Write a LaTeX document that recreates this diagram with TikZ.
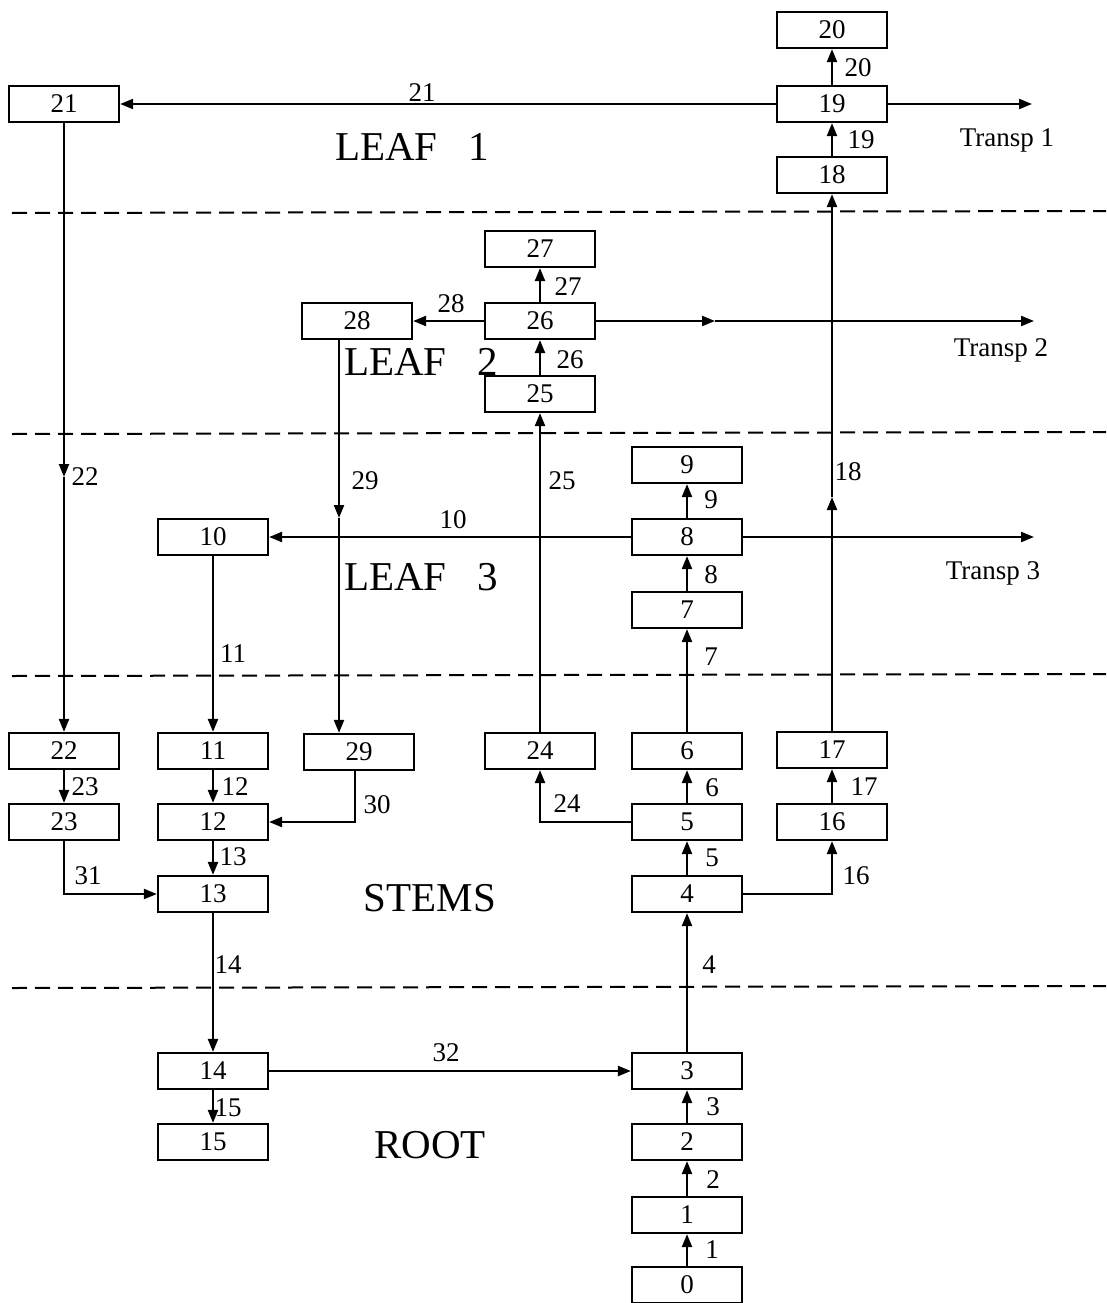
\documentclass[tikz,border=0pt]{standalone}
\usepackage{fontspec}
\setmainfont{Liberation Serif}
\usetikzlibrary{arrows.meta}
\begin{document}
\begin{tikzpicture}[x=1pt,y=-1pt,
  box/.style={draw, line width=2.2pt, minimum width=110pt, minimum height=36pt, inner sep=0pt, font=\fontsize{27}{27}\selectfont},
  lab/.style={font=\fontsize{27}{27}\selectfont, inner sep=0pt},
  region/.style={font=\fontsize{41}{41}\selectfont, inner sep=0pt},
  tr/.style={font=\fontsize{27}{27}\selectfont, inner sep=0pt},
  con/.style={line width=2.2pt},
  arr/.style={con, -{Triangle[length=13pt,width=10pt]}},
  sep/.style={line width=2pt, dash pattern=on 15pt off 8pt}]
\useasboundingbox (0,0) rectangle (1106,1303);
\fill[white] (0,0) rectangle (1106,1303);

% separators
\coordinate (s1a) at (12,213); \coordinate (s1b) at (1106,211);
\coordinate (s2a) at (12,434); \coordinate (s2b) at (1106,432);
\coordinate (s3a) at (12,676); \coordinate (s3b) at (1106,674);
\coordinate (s4a) at (12,988); \coordinate (s4b) at (1106,986);
\draw[sep] (s1a) -- (s1b);
\draw[sep] (s2a) -- (s2b);
\draw[sep] (s3a) -- (s3b);
\draw[sep] (s4a) -- (s4b);

% boxes
\node[box] (b20) at (832,30) {20};
\node[box] (b19) at (832,104) {19};
\node[box] (b18) at (832,175) {18};
\node[box] (b21) at (64,104) {21};
\node[box] (b27) at (540,249) {27};
\node[box] (b26) at (540,321) {26};
\node[box] (b28) at (357,321) {28};
\node[box] (b25) at (540,394) {25};
\node[box] (b9) at (687,465) {9};
\node[box] (b8) at (687,537) {8};
\node[box] (b7) at (687,610) {7};
\node[box] (b10) at (213,537) {10};
\node[box] (b22) at (64,751) {22};
\node[box] (b11) at (213,751) {11};
\node[box] (b29) at (359,752) {29};
\node[box] (b24) at (540,751) {24};
\node[box] (b6) at (687,751) {6};
\node[box] (b17) at (832,750) {17};
\node[box] (b23) at (64,822) {23};
\node[box] (b12) at (213,822) {12};
\node[box] (b5) at (687,822) {5};
\node[box] (b16) at (832,822) {16};
\node[box] (b13) at (213,894) {13};
\node[box] (b4) at (687,894) {4};
\node[box] (b14) at (213,1071) {14};
\node[box] (b3) at (687,1071) {3};
\node[box] (b15) at (213,1142) {15};
\node[box] (b2) at (687,1142) {2};
\node[box] (b1) at (687,1215) {1};
\node[box] (b0) at (687,1285) {0};

% free ends / mid points
\coordinate (t1) at (1032,104);
\coordinate (t2) at (1034,321);
\coordinate (t3) at (1034,537);
\coordinate (m22) at (64,477);
\coordinate (m26) at (715,321);
\coordinate (m29) at (339,518);
\coordinate (m18) at (832,497);

% connectors
\draw[arr] (b19) -- (b20);
\draw[arr] (b18) -- (b19);
\draw[arr] (b19) -- (b21);
\draw[arr] (b19) -- (t1);
\draw[arr] (b21) -- (m22);
\draw[arr] (m22) -- (b22);
\draw[arr] (b26) -- (b27);
\draw[arr] (b25) -- (b26);
\draw[arr] (b26) -- (b28);
\draw[arr] (b26) -- (m26);
\draw[arr] (m26) -- (t2);
\draw[arr] (b28.south -| m29) -- (m29);
\draw[arr] (m29) -- (b29.north -| m29);
\draw[arr] (b24) -- (b25);
\draw[arr] (b17) -- (m18);
\draw[arr] (m18) -- (b18);
\draw[arr] (b16) -- (b17);
\draw[arr] (b8) -- (b9);
\draw[arr] (b7) -- (b8);
\draw[arr] (b6) -- (b7);
\draw[arr] (b5) -- (b6);
\draw[arr] (b4) -- (b5);
\draw[arr] (b3) -- (b4);
\draw[arr] (b2) -- (b3);
\draw[arr] (b1) -- (b2);
\draw[arr] (b0) -- (b1);
\draw[arr] (b8) -- (b10);
\draw[arr] (b8) -- (t3);
\draw[arr] (b10) -- (b11);
\draw[arr] (b11) -- (b12);
\draw[arr] (b12) -- (b13);
\draw[arr] (b13) -- (b14);
\draw[arr] (b14) -- (b15);
\draw[arr] (b22) -- (b23);
\draw[arr] ([xshift=-4pt]b29.south) |- (b12.east);
\draw[arr] (b5.west) -| (b24.south);
\draw[arr] (b23.south) |- (b13.west);
\draw[arr] (b4.east) -| (b16.south);
\draw[arr] (b14) -- (b3);

% connector labels
\node[lab] (l21) at (422,93) {21};
\node[lab] (l20) at (858,68) {20};
\node[lab] (l19) at (861,140) {19};
\node[lab] (l27) at (568,287) {27};
\node[lab] (l28) at (451,304) {28};
\node[lab] (l26) at (570,360) {26};
\node[lab] (l22) at (85,477) {22};
\node[lab] (l29) at (365,481) {29};
\node[lab] (l25) at (562,481) {25};
\node[lab] (l18) at (848,472) {18};
\node[lab] (l9) at (711,500) {9};
\node[lab] (l10) at (453,520) {10};
\node[lab] (l8) at (711,575) {8};
\node[lab] (l11) at (233,654) {11};
\node[lab] (l7) at (711,657) {7};
\node[lab] (l23) at (85,787) {23};
\node[lab] (l12) at (235,787) {12};
\node[lab] (l30) at (377,805) {30};
\node[lab] (l24) at (567,804) {24};
\node[lab] (l6) at (712,788) {6};
\node[lab] (l17) at (864,787) {17};
\node[lab] (l13) at (233,857) {13};
\node[lab] (l31) at (88,876) {31};
\node[lab] (l5) at (712,858) {5};
\node[lab] (l16) at (856,876) {16};
\node[lab] (l14) at (228,965) {14};
\node[lab] (l4) at (709,965) {4};
\node[lab] (l32) at (446,1053) {32};
\node[lab] (l15) at (228,1108) {15};
\node[lab] (l3) at (713,1107) {3};
\node[lab] (l2) at (713,1180) {2};
\node[lab] (l1) at (712,1250) {1};

% transport labels
\node[tr] (tr1) at (1007,140) {Transp 1};
\node[tr] (tr2) at (1001,350) {Transp 2};
\node[tr] (tr3) at (993,573) {Transp 3};

% region labels
\node[region] (r1) at (412,147) {LEAF\hspace{0.75em}1};
\node[region] (r2) at (421,362) {LEAF\hspace{0.75em}2};
\node[region] (r3) at (421,577) {LEAF\hspace{0.75em}3};
\node[region] (r4) at (430,898) {STEMS};
\node[region] (r5) at (430,1145) {ROOT};
\end{tikzpicture}
\end{document}
